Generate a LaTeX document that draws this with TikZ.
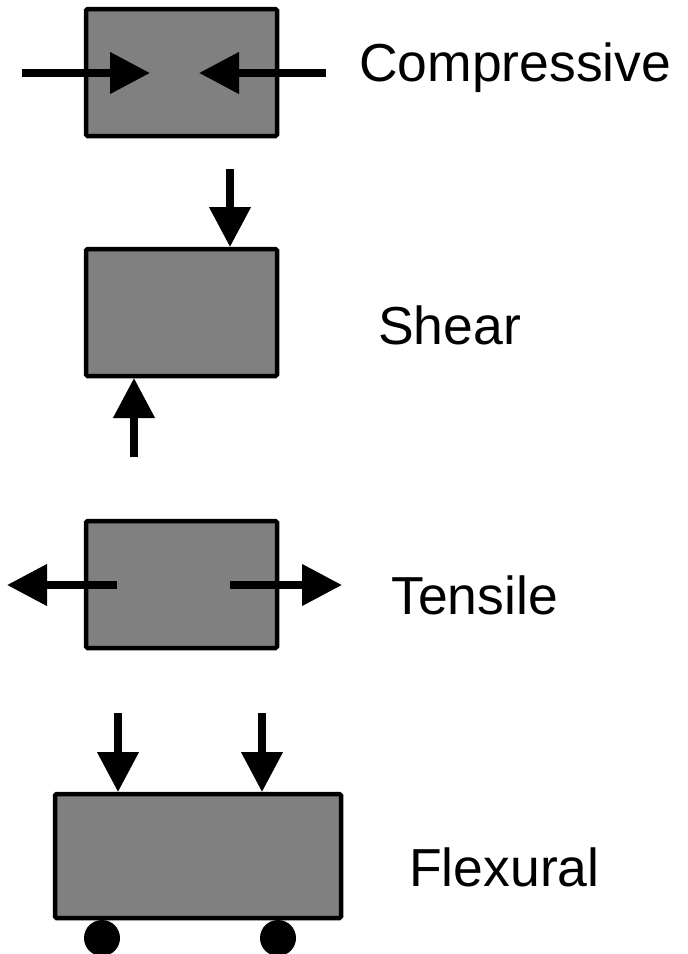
\documentclass[tikz,border=0pt]{standalone}
\usepackage{fontspec}
\setmainfont{Liberation Sans}
\usetikzlibrary{arrows.meta}
\begin{document}
\begin{tikzpicture}[x=1pt,y=-1pt,
  specimen/.style={draw=black, fill=specgray, line width=4.5pt, rounded corners=1.5pt, inner sep=0pt},
  force/.style={line width=7.5pt, draw=black, -{Triangle[length=40pt,width=40pt]}},
  lbl/.style={anchor=base west, inner sep=0pt, font=\fontsize{53.5}{60}\selectfont},
  wheel/.style={circle, fill=black, draw=none, minimum size=36pt, inner sep=0pt}]
\definecolor{specgray}{HTML}{808080}
\useasboundingbox (0,0) rectangle (688,954);

% boxes
\node[specimen, minimum width=191pt, minimum height=127pt] (comp) at (181.5,72.5) {};
\node[specimen, minimum width=191pt, minimum height=127pt] (shear) at (181.5,312.5) {};
\node[specimen, minimum width=191pt, minimum height=127pt] (tens) at (181.5,584.5) {};
\node[specimen, minimum width=286pt, minimum height=124pt] (flex) at (198,856) {};

% wheels
\node[wheel] (w1) at (102,938) {};
\node[wheel] (w2) at (278,938) {};

% compressive arrows
\coordinate (c1s) at (22,73);
\coordinate (c1e) at (150,73);
\coordinate (c2s) at (326,73);
\coordinate (c2e) at (199,73);
\draw[force] (c1s) -- (c1e);
\draw[force] (c2s) -- (c2e);

% shear arrows
\coordinate (s1s) at (230,169);
\coordinate (s1e) at (230,247);
\coordinate (s2s) at (134,457);
\coordinate (s2e) at (134,378);
\draw[force] (s1s) -- (s1e);
\draw[force] (s2s) -- (s2e);

% tensile arrows
\coordinate (t1s) at (117,585);
\coordinate (t1e) at (7,585);
\coordinate (t2s) at (230,585);
\coordinate (t2e) at (342,585);
\draw[force] (t1s) -- (t1e);
\draw[force] (t2s) -- (t2e);

% flexural arrows
\coordinate (f1s) at (118,713);
\coordinate (f1e) at (118,792);
\coordinate (f2s) at (262,713);
\coordinate (f2e) at (262,792);
\draw[force] (f1s) -- (f1e);
\draw[force] (f2s) -- (f2e);

% labels
\node[lbl] (lc) at (359,81) {Compressive};
\node[lbl] (ls) at (378,344) {Shear};
\node[lbl] (lt) at (391,614) {Tensile};
\node[lbl] (lf) at (409,886) {Flexural};
\end{tikzpicture}
\end{document}
